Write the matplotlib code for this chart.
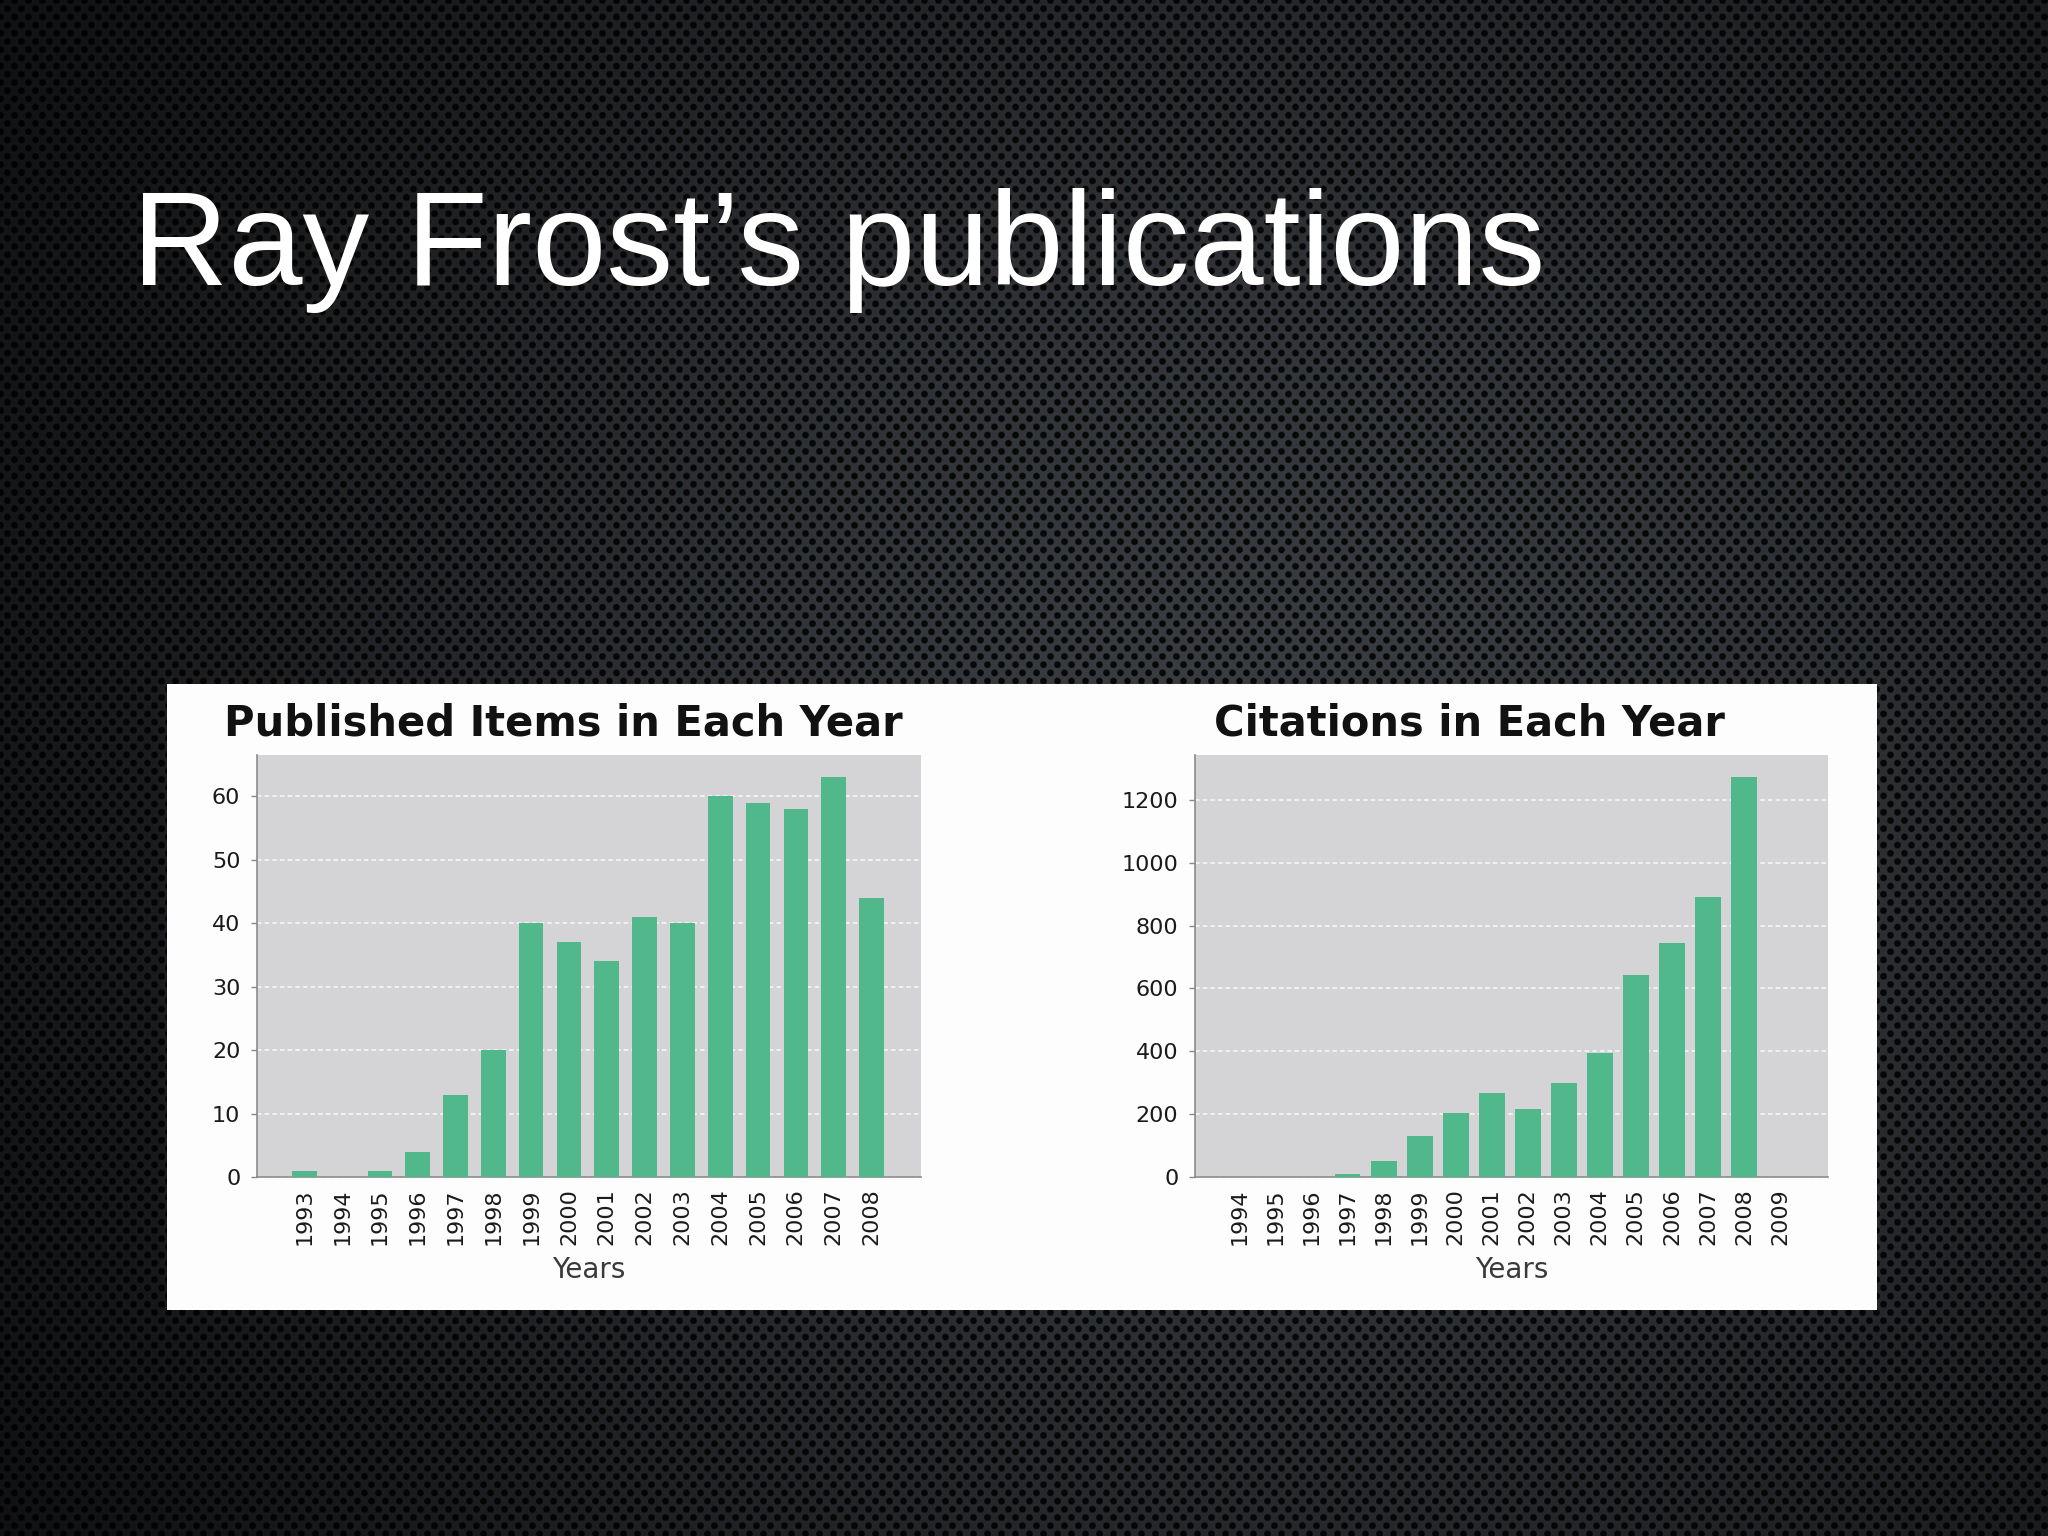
import numpy as np
import matplotlib.pyplot as plt
from matplotlib.patches import Rectangle

# published items per year
pub_years = ['1993', '1994', '1995', '1996', '1997', '1998', '1999', '2000',
             '2001', '2002', '2003', '2004', '2005', '2006', '2007', '2008']
pub_counts = [1, 0, 1, 4, 13, 20, 40, 37, 34, 41, 40, 60, 59, 58, 63, 44]
pub_ticks = [0, 10, 20, 30, 40, 50, 60]

# citations per year
cit_years = ['1994', '1995', '1996', '1997', '1998', '1999', '2000', '2001',
             '2002', '2003', '2004', '2005', '2006', '2007', '2008', '2009']
cit_counts = [0, 0, 0, 10, 50, 130, 203, 266, 216, 298, 395, 642, 746, 891, 1274, 0]
cit_ticks = [0, 200, 400, 600, 800, 1000, 1200]

BAR_GREEN = '#50b88a'
PLOT_BG = '#d4d4d6'
W, H = 2048, 1536


def slide_background(fig):
    # dark perforated metal look of the slide
    yy, xx = np.mgrid[0:H, 0:W].astype(float)
    light = 0.035 + 0.2 * np.exp(-(((xx / W - 0.62) / 0.55) ** 2 + ((yy / H - 0.5) / 0.7) ** 2))
    period, row_step = 14.0, 8.2
    row = np.round(yy / row_step)
    offset = (row % 2) * period / 2
    dx = ((xx - offset + period / 2) % period) - period / 2
    dy = yy - row * row_step
    hole = np.clip((4.0 - np.sqrt(dx ** 2 + dy ** 2)) / 1.3, 0, 1)
    val = light * (1 - 0.85 * hole)
    img = np.dstack([val * 0.95, val * 1.0, val * 1.08]).clip(0, 1)
    bg = fig.add_axes([0, 0, 1, 1], zorder=-10)
    bg.imshow(img, aspect='auto', interpolation='bilinear')
    bg.axis('off')


def draw_bars(ax, labels, values, ticks, ylim, xpad, width):
    x = np.arange(len(labels))
    ax.bar(x, values, width=width, color=BAR_GREEN, edgecolor='none', zorder=3)
    ax.set_facecolor(PLOT_BG)
    ax.set_xlim(-xpad[0], len(labels) - 1 + xpad[1])
    ax.set_ylim(0, ylim)
    ax.set_xticks(x)
    ax.set_xticklabels(labels, rotation=90, fontsize=16, color='#1a1a1a')
    ax.set_yticks(ticks)
    ax.set_yticklabels([str(t) for t in ticks], fontsize=16, color='#1a1a1a')
    ax.tick_params(axis='x', length=0, pad=8)
    ax.tick_params(axis='y', length=4, width=1, color='#8a8a8a', pad=8)
    ax.yaxis.grid(True, color='white', linestyle=(0, (3, 2)), linewidth=1.1, alpha=0.85, zorder=1)
    ax.set_axisbelow(True)
    for side in ['top', 'right']:
        ax.spines[side].set_visible(False)
    for side in ['left', 'bottom']:
        ax.spines[side].set_color('#8a8a8a')
        ax.spines[side].set_linewidth(1.2)
    ax.set_xlabel('Years', fontsize=20, color='#3a3a3a', labelpad=8)


fig = plt.figure(figsize=(20.48, 15.36), dpi=100)
slide_background(fig)

# white panel holding both charts
fig.patches.append(Rectangle((167 / W, 1 - 1310 / H), (1877 - 167) / W, (1310 - 684) / H,
                             transform=fig.transFigure, facecolor='#fdfdfd',
                             edgecolor='none', zorder=-5))

ax1 = fig.add_axes([257 / W, 1 - 1177 / H, (921 - 257) / W, (1177 - 755) / H])
draw_bars(ax1, pub_years, pub_counts, pub_ticks, 66.5, (1.25, 1.31), 0.65)

ax2 = fig.add_axes([1195 / W, 1 - 1177 / H, (1828 - 1195) / W, (1177 - 755) / H])
draw_bars(ax2, cit_years, cit_counts, cit_ticks, 1343, (1.23, 1.33), 0.72)

fig.text(563 / W, 1 - 735 / H, 'Published Items in Each Year', ha='center', va='baseline',
         fontsize=30, fontweight='bold', color='#111111')
fig.text(1469 / W, 1 - 735 / H, 'Citations in Each Year', ha='center', va='baseline',
         fontsize=30, fontweight='bold', color='#111111')

fig.text(132 / W, 1 - 285 / H, 'Ray Frost\u2019s publications', ha='left', va='baseline',
         fontsize=96, color='white', family=['Liberation Sans', 'DejaVu Sans'])

fig.savefig('out.png', dpi=100)
plt.close(fig)
